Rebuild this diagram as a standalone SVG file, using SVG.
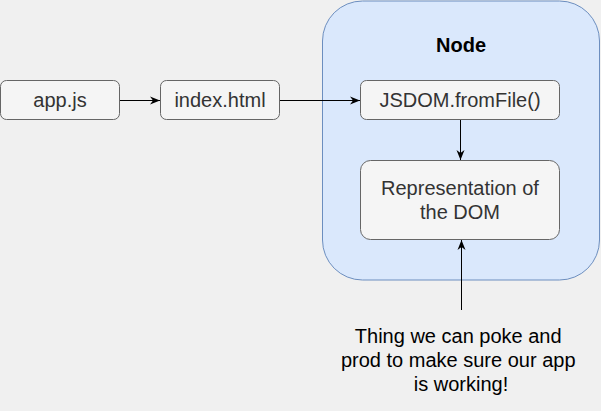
<svg xmlns="http://www.w3.org/2000/svg" width="601" height="411" viewBox="0 0 601 411">
<style>
.box{fill:#f5f5f5;stroke:#666666;stroke-width:1}
.lbl{font-family:"Liberation Sans",Arial,sans-serif;font-size:20px;fill:#333333;text-anchor:middle}
.edge{stroke:#000000;stroke-width:1;fill:none}
</style>
<defs>
<marker id="arr" viewBox="0 0 10 10" refX="10" refY="5" markerWidth="10" markerHeight="10" markerUnits="userSpaceOnUse" orient="auto">
<path d="M0,1 L10,5 L0,9 L3,5 Z" fill="#000000"/>
</marker>
</defs>
<rect x="0" y="0" width="601" height="411" fill="#f0f0f0"/>
<g id="node-container">
<rect x="322.5" y="1" width="277" height="279" rx="40" ry="40" fill="#dae8fc" stroke="#6c8ebf" stroke-width="1"/>
<text x="461" y="52" font-family="'Liberation Sans',Arial,sans-serif" font-size="20" font-weight="bold" fill="#000000" text-anchor="middle">Node</text>
</g>
<g id="app-js">
<rect class="box" x="0.5" y="80.5" width="119" height="39" rx="6"/>
<text class="lbl" x="60" y="107">app.js</text>
</g>
<g id="index-html">
<rect class="box" x="160.5" y="80.5" width="119" height="39" rx="6"/>
<text class="lbl" x="220" y="107">index.html</text>
</g>
<g id="jsdom">
<rect class="box" x="360.5" y="80.5" width="199" height="39" rx="6"/>
<text class="lbl" x="460" y="107">JSDOM.fromFile()</text>
</g>
<g id="representation">
<rect class="box" x="360.5" y="160.5" width="199" height="79" rx="10"/>
<text class="lbl" x="460" y="195">Representation of</text>
<text class="lbl" x="460" y="219">the DOM</text>
</g>
<g id="note">
<text font-family="'Liberation Sans',Arial,sans-serif" font-size="20" fill="#000000" text-anchor="middle">
<tspan x="461" y="343">Thing we can poke and</tspan>
<tspan x="461" y="367">prod to make sure our app</tspan>
<tspan x="461" y="391">is working!</tspan>
</text>
</g>
<g id="connectors">
<line class="edge" x1="120" y1="100.5" x2="160" y2="100.5" marker-end="url(#arr)"/>
<line class="edge" x1="280" y1="100.5" x2="360" y2="100.5" marker-end="url(#arr)"/>
<line class="edge" x1="460.5" y1="120" x2="460.5" y2="160" marker-end="url(#arr)"/>
<line class="edge" x1="461.5" y1="310" x2="461.5" y2="240" marker-end="url(#arr)"/>
</g>
</svg>
